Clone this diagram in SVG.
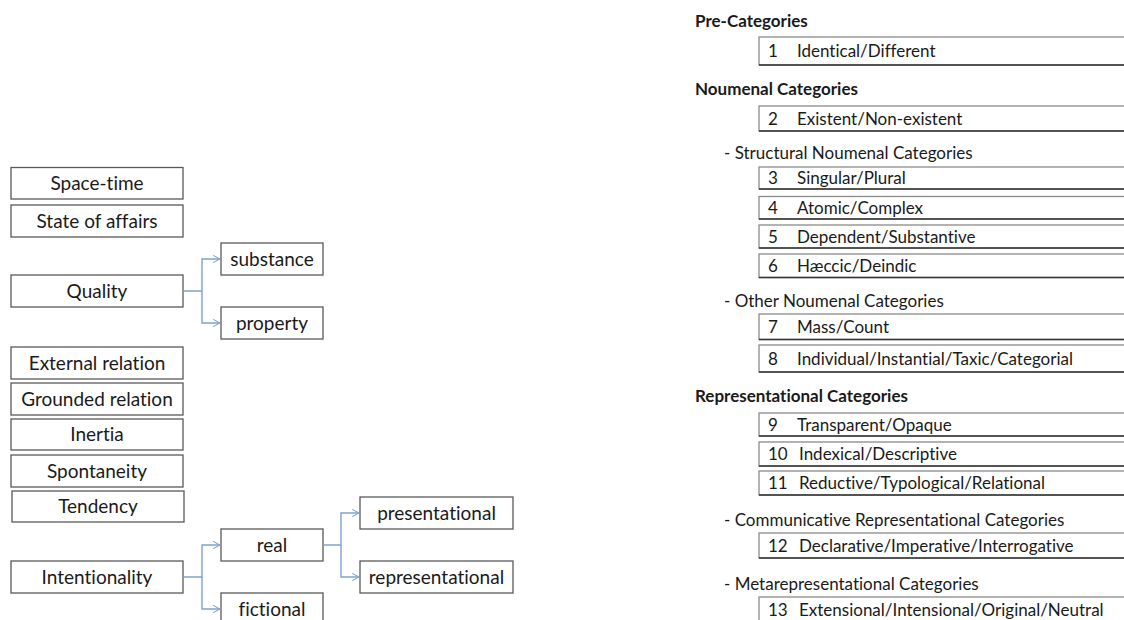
<svg xmlns="http://www.w3.org/2000/svg" width="1124" height="620" viewBox="0 0 1124 620">
  <defs>
    <marker id="chev" viewBox="0 0 10 10" refX="9.5" refY="5" markerWidth="8" markerHeight="8" markerUnits="userSpaceOnUse" orient="auto">
      <path d="M1,0.5 L9.5,5 L1,9.5" fill="none" stroke="#7fa2d2" stroke-width="1.3"/>
    </marker>
  </defs>
  <style>
    text { font-family: Lato, "Open Sans", "Liberation Sans", sans-serif; font-size: 17px; fill: #1a1a1a; font-variant-ligatures: none; }
    .box { fill: #fff; stroke: #5a5a5a; stroke-width: 1.3; }
    .lbl { text-anchor: middle; font-size: 19px; }
    .head { font-weight: bold; }
    .row { fill: #fff; stroke: #8a8a8a; stroke-width: 1.3; }
    .rowb { stroke: #333; stroke-width: 1.3; }
    .link { fill: none; stroke: #7fa2d2; stroke-width: 1.4; }
  </style>
  <rect width="1124" height="620" fill="#fff"/>

  <!-- left: ontology boxes -->
  <g id="n-spacetime"><rect class="box" x="11" y="167.5" width="172" height="31.5"/><text class="lbl" x="97" y="190">Space-time</text></g>
  <g id="n-stateofaffairs"><rect class="box" x="11" y="205" width="172" height="32"/><text class="lbl" x="97" y="228">State of affairs</text></g>
  <g id="n-quality"><rect class="box" x="11" y="275" width="172" height="32"/><text class="lbl" x="97" y="298">Quality</text></g>
  <g id="n-substance"><rect class="box" x="221" y="243" width="102" height="32"/><text class="lbl" x="272" y="266">substance</text></g>
  <g id="n-property"><rect class="box" x="221" y="307" width="102" height="32"/><text class="lbl" x="272" y="330">property</text></g>
  <g id="n-external"><rect class="box" x="11" y="347" width="172" height="32"/><text class="lbl" x="97" y="370">External relation</text></g>
  <g id="n-grounded"><rect class="box" x="11" y="383" width="172" height="32"/><text class="lbl" x="97" y="406">Grounded relation</text></g>
  <g id="n-inertia"><rect class="box" x="11" y="419" width="172" height="31"/><text class="lbl" x="97" y="441">Inertia</text></g>
  <g id="n-spontaneity"><rect class="box" x="11" y="455" width="172" height="32"/><text class="lbl" x="97" y="478">Spontaneity</text></g>
  <g id="n-tendency"><rect class="box" x="12" y="491" width="172" height="31"/><text class="lbl" x="98" y="513">Tendency</text></g>
  <g id="n-intentionality"><rect class="box" x="11" y="561" width="172" height="32"/><text class="lbl" x="97" y="584">Intentionality</text></g>
  <g id="n-real"><rect class="box" x="221" y="529" width="102" height="32"/><text class="lbl" x="272" y="552">real</text></g>
  <g id="n-fictional"><rect class="box" x="221" y="593" width="102" height="32"/><text class="lbl" x="272" y="616">fictional</text></g>
  <g id="n-presentational"><rect class="box" x="360" y="497" width="153" height="32"/><text class="lbl" x="436.5" y="520">presentational</text></g>
  <g id="n-representational"><rect class="box" x="360" y="561" width="153" height="32"/><text class="lbl" x="436.5" y="584">representational</text></g>

  <!-- connectors -->
  <g id="connectors">
    <path class="link" d="M183,291 H202 V259 H220" marker-end="url(#chev)"/>
    <path class="link" d="M202,291 V323 H220" marker-end="url(#chev)"/>
    <path class="link" d="M183,577 H202 V545 H220" marker-end="url(#chev)" stroke-width="1.8"/>
    <path class="link" d="M202,577 V609 H220" marker-end="url(#chev)"/>
    <path class="link" d="M323,545 H341 V513 H359" marker-end="url(#chev)"/>
    <path class="link" d="M341,545 V577 H359" marker-end="url(#chev)"/>
  </g>

  <!-- right: category list -->
  <g id="h-pre"><text class="head" x="695" y="27">Pre-Categories</text></g>
  <g id="c1"><rect class="row" x="759" y="37" width="380" height="28"/><line class="rowb" x1="759" y1="65" x2="1124" y2="65"/><text x="768" y="57">1</text><text x="797" y="57">Identical/Different</text></g>

  <g id="h-noumenal"><text class="head" x="695" y="95">Noumenal Categories</text></g>
  <g id="c2"><rect class="row" x="759" y="106" width="380" height="25"/><line class="rowb" x1="759" y1="131" x2="1124" y2="131"/><text x="768" y="124.5">2</text><text x="797" y="124.5">Existent/Non-existent</text></g>

  <g id="h-structural"><text x="724" y="159">- Structural Noumenal Categories</text></g>
  <g id="c3"><rect class="row" x="759" y="167" width="380" height="22"/><line class="rowb" x1="759" y1="189" x2="1124" y2="189"/><text x="768" y="184">3</text><text x="797" y="184">Singular/Plural</text></g>
  <g id="c4"><rect class="row" x="759" y="196.5" width="380" height="22.5"/><line class="rowb" x1="759" y1="219" x2="1124" y2="219"/><text x="768" y="213.5">4</text><text x="797" y="213.5">Atomic/Complex</text></g>
  <g id="c5"><rect class="row" x="759" y="225" width="380" height="23"/><line class="rowb" x1="759" y1="248" x2="1124" y2="248"/><text x="768" y="242.5">5</text><text x="797" y="242.5">Dependent/Substantive</text></g>
  <g id="c6"><rect class="row" x="759" y="254" width="380" height="23.5"/><line class="rowb" x1="759" y1="277.5" x2="1124" y2="277.5"/><text x="768" y="271.5">6</text><text x="797" y="271.5">Hæccic/Deindic</text></g>

  <g id="h-other"><text x="724" y="306.5">- Other Noumenal Categories</text></g>
  <g id="c7"><rect class="row" x="759" y="314" width="380" height="25.5"/><line class="rowb" x1="759" y1="339.5" x2="1124" y2="339.5"/><text x="768" y="332.5">7</text><text x="797" y="332.5">Mass/Count</text></g>
  <g id="c8"><rect class="row" x="759" y="345" width="380" height="27"/><line class="rowb" x1="759" y1="372" x2="1124" y2="372"/><text x="768" y="364.5">8</text><text x="797" y="364.5">Individual/Instantial/Taxic/Categorial</text></g>

  <g id="h-representational"><text class="head" x="695" y="402">Representational Categories</text></g>
  <g id="c9"><rect class="row" x="759" y="413" width="380" height="23"/><line class="rowb" x1="759" y1="436" x2="1124" y2="436"/><text x="768" y="430.5">9</text><text x="797" y="430.5">Transparent/Opaque</text></g>
  <g id="c10"><rect class="row" x="759" y="442" width="380" height="24"/><line class="rowb" x1="759" y1="466" x2="1124" y2="466"/><text x="768" y="460">10</text><text x="799" y="460">Indexical/Descriptive</text></g>
  <g id="c11"><rect class="row" x="759" y="471" width="380" height="24"/><line class="rowb" x1="759" y1="495" x2="1124" y2="495"/><text x="768" y="489">11</text><text x="799" y="489">Reductive/Typological/Relational</text></g>

  <g id="h-communicative"><text x="724" y="526">- Communicative Representational Categories</text></g>
  <g id="c12"><rect class="row" x="759" y="533" width="380" height="25"/><line class="rowb" x1="759" y1="558" x2="1124" y2="558"/><text x="768" y="551.5">12</text><text x="799" y="551.5">Declarative/Imperative/Interrogative</text></g>

  <g id="h-meta"><text x="724" y="590">- Metarepresentational Categories</text></g>
  <g id="c13"><rect class="row" x="759" y="597" width="380" height="30"/><text x="768" y="615.5">13</text><text x="799" y="615.5">Extensional/Intensional/Original/Neutral</text></g>
</svg>
